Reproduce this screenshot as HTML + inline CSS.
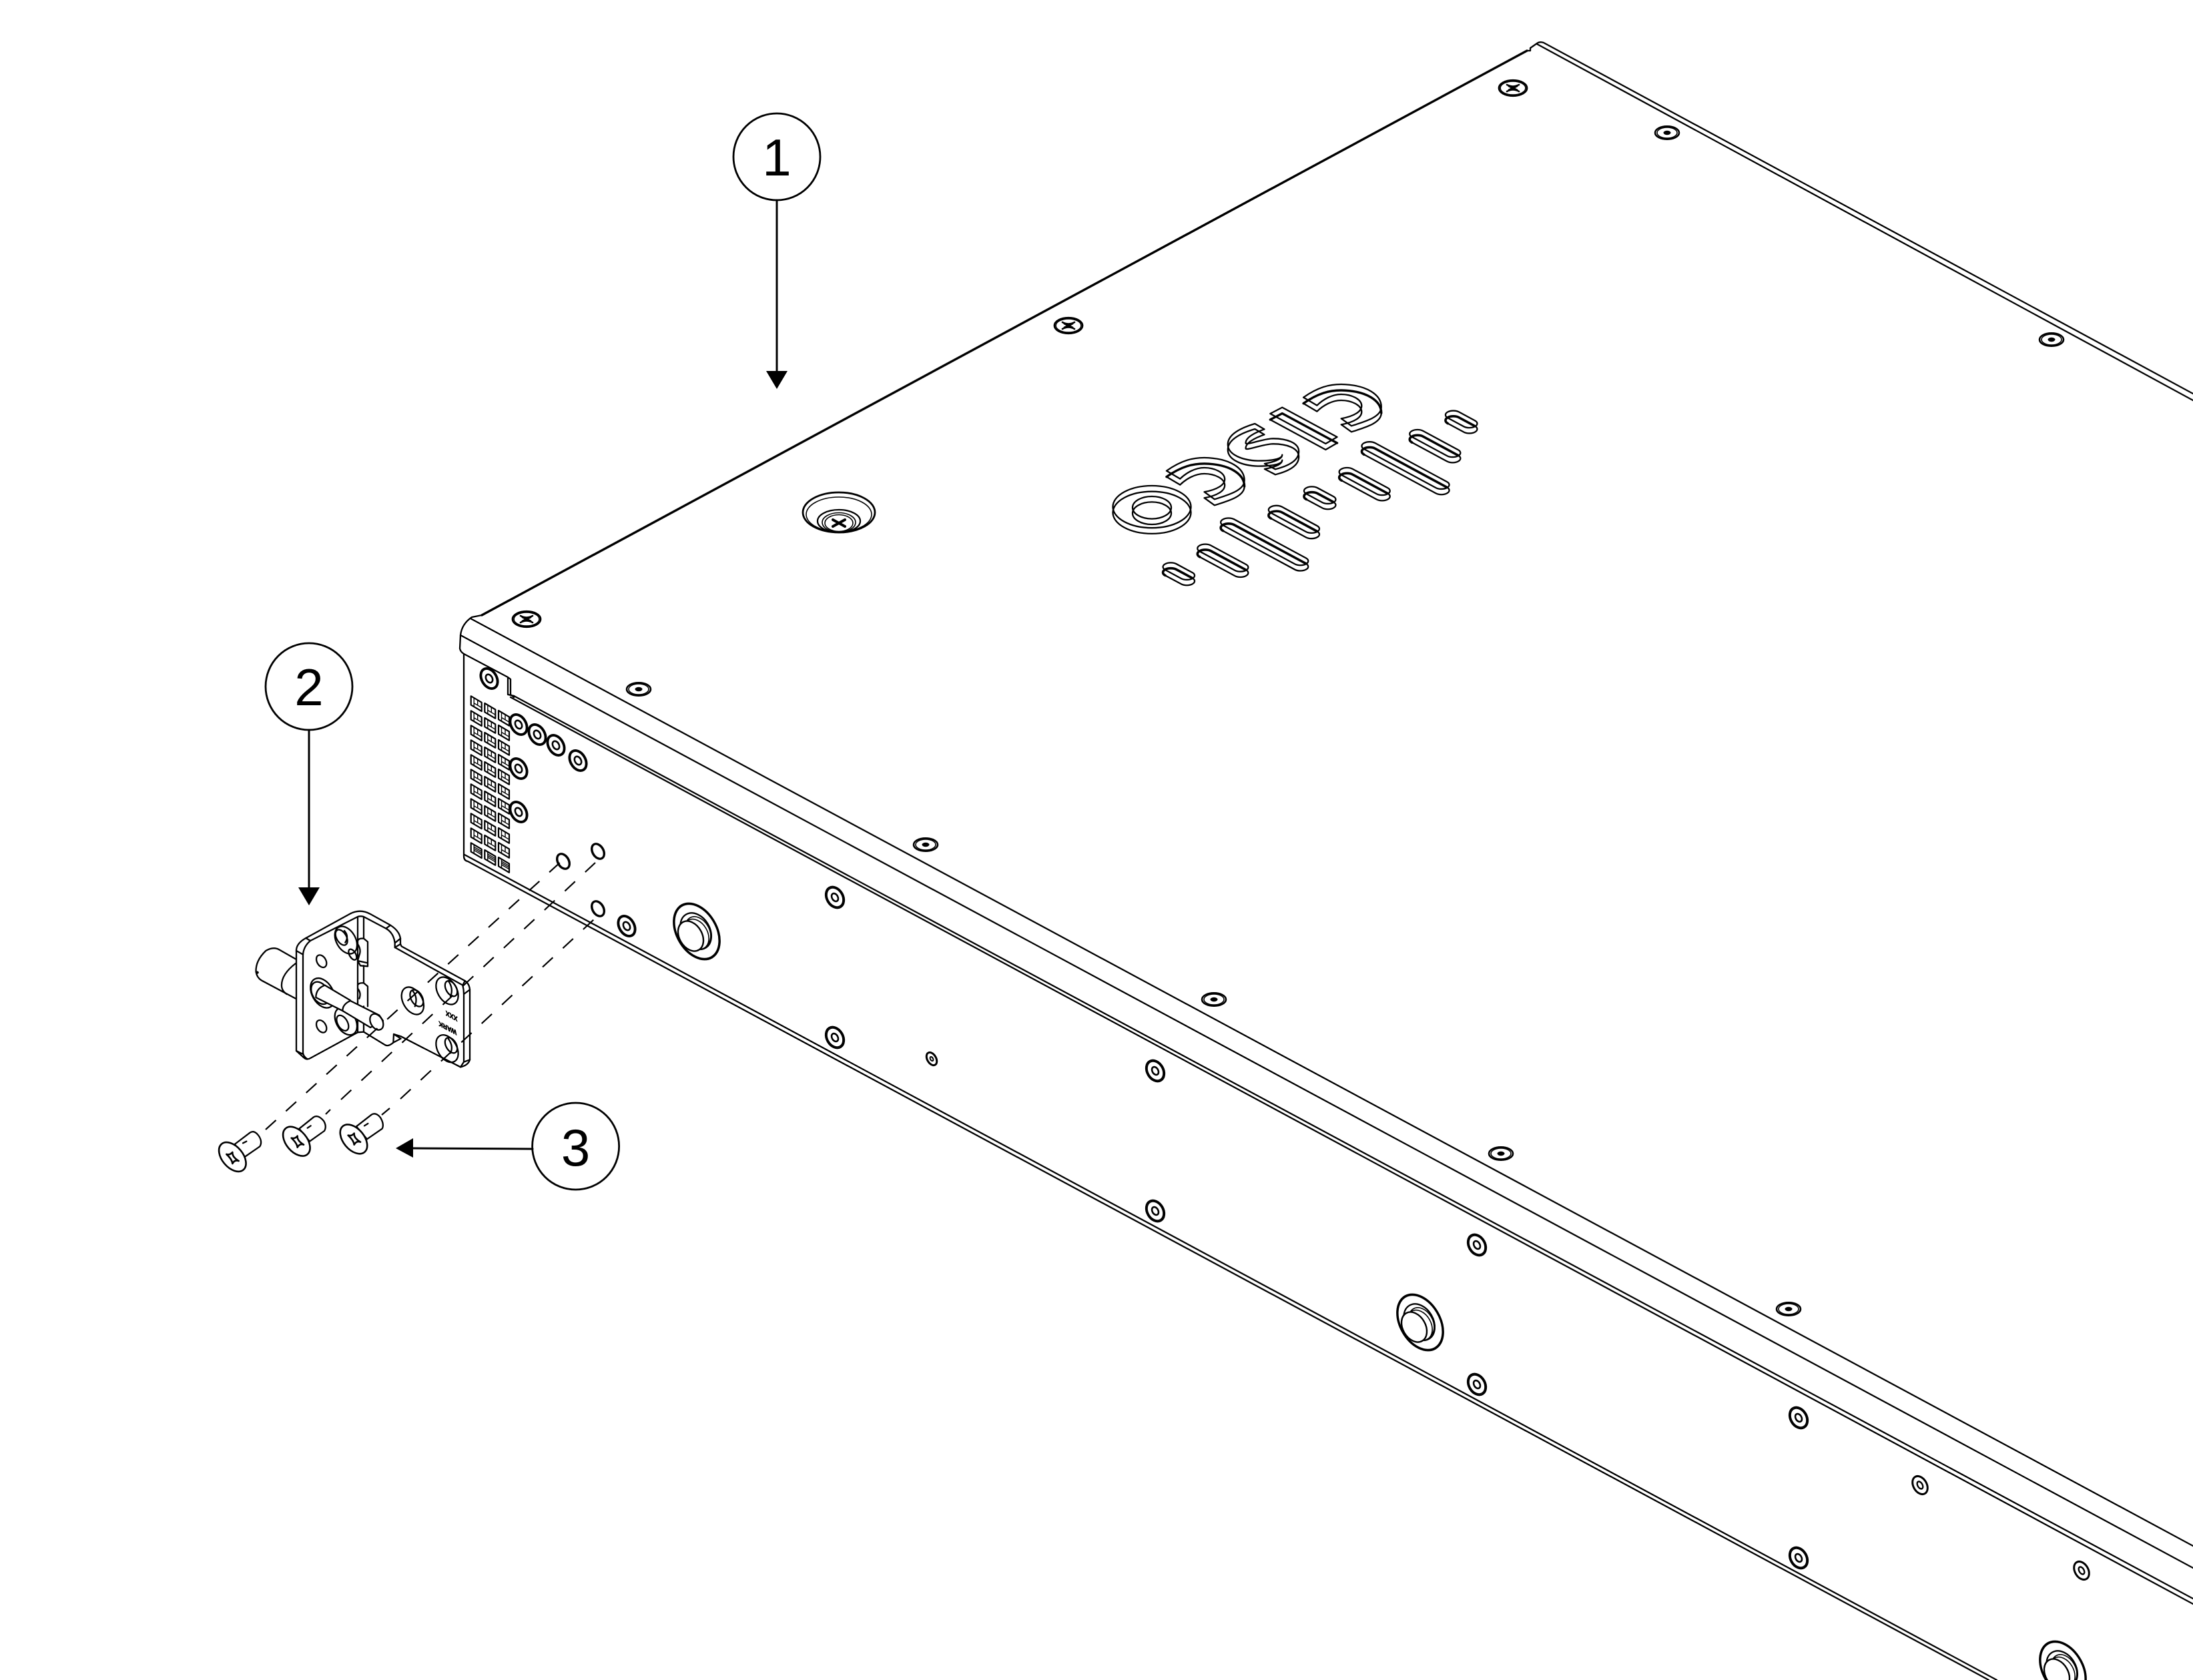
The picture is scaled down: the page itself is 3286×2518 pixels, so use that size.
<!DOCTYPE html>
<html><head><meta charset="utf-8"><style>
html,body{margin:0;padding:0;background:#fff;width:3286px;height:2518px;overflow:hidden}
svg{display:block}
.nss *{vector-effect:non-scaling-stroke}
text{font-family:"Liberation Sans",sans-serif;fill:#000}
</style></head><body>
<svg width="3286" height="2518" viewBox="0 0 3286 2518" xmlns="http://www.w3.org/2000/svg" fill="none" stroke="#000" stroke-width="2.3" stroke-linejoin="round" stroke-linecap="round">
<defs>
<g id="pan"><ellipse rx="18" ry="9.7" stroke-width="2.6"/><ellipse rx="15" ry="8" stroke-width="1.6"/><ellipse rx="5.5" ry="3.2" fill="#000" stroke="none"/></g>
<g id="phil"><ellipse rx="21" ry="11.7" stroke-width="2.8"/><ellipse rx="18.8" ry="10" stroke-width="1.4"/><path d="M-9,-5 Q0,0 9,-5 M-9,5 Q0,0 9,5" stroke-width="2.6"/><path d="M-6,-3 L6,3 M-6,3 L6,-3" stroke-width="3"/></g>
<g id="side"><ellipse rx="11.8" ry="16.8" transform="rotate(-30)" stroke-width="2.6"/><ellipse rx="10" ry="15" transform="rotate(-30)" stroke-width="1.6"/><ellipse rx="4.6" ry="6.6" transform="rotate(-30)" stroke-width="2.6"/></g>
<g id="sidev"><ellipse rx="12.6" ry="17" transform="rotate(-30)" stroke-width="2.6"/><ellipse rx="10.8" ry="15" transform="rotate(-30)" stroke-width="1.6"/><ellipse rx="4.4" ry="6.4" transform="rotate(-30)" stroke-width="2.6"/></g>
<g id="small"><ellipse rx="10" ry="14.5" transform="rotate(-30)" stroke-width="3"/><ellipse rx="3.6" ry="6" transform="rotate(-30)" stroke-width="2.4"/></g>
<g id="tiny"><ellipse rx="6.6" ry="10.4" transform="rotate(-30)" stroke-width="3"/><ellipse rx="2" ry="3.4" transform="rotate(-30)" stroke-width="2"/></g>
<g id="hole"><ellipse rx="8.6" ry="12.4" transform="rotate(-30)" stroke-width="2.6"/><ellipse rx="7" ry="11" transform="rotate(-30)" stroke-width="1.2"/></g>
<g id="foot">
<ellipse rx="30" ry="45.3" transform="rotate(-30)" stroke-width="2.8"/>
<ellipse cx="0" cy="0" rx="28.6" ry="43.6" transform="rotate(-30)" stroke-width="1.2"/>
<ellipse cx="-1" cy="-1" rx="21" ry="29" transform="rotate(-30)"/>
<ellipse cx="-3" cy="1" rx="17" ry="24" transform="translate(4,-2) rotate(-30)" fill="#fff" stroke-width="1.6"/>
<ellipse cx="-5" cy="3" rx="17" ry="24" transform="translate(2,-1) rotate(-30)" fill="#fff" stroke-width="1.6"/>
<ellipse cx="-9" cy="7" rx="17" ry="24" transform="rotate(-30 -9 7)" fill="#fff" stroke-width="2.4"/>
</g>
<g id="v"><path d="M0,0 L16,9.5 L16,22.8 L0,13.3 Z" stroke-width="2.2"/><path d="M4.5,3 L4.5,15.5 M4.5,10.5 L16,17.3 M10,6 L10,13.5" stroke-width="1.4"/></g>
<g id="vb"><path d="M0,0 L16,9.5 L16,22.8 L0,13.3 Z" stroke-width="2.2"/><path d="M4.5,3 L4.5,15.5 M4.5,6 L16,12.8 M4.5,8.5 L16,15.3 M4.5,11 L16,17.8" stroke-width="1.4"/></g>
<path id="sd" d="M-3.7,-10.96 L20.3,2 A11.7,6.3 0 0 1 3.7,10.96 L-20.3,-2 A11.7,6.3 0 0 1 -3.7,-10.96 Z"/>
<path id="sm" d="M-18,-18.68 L34.6,9.72 A11.7,6.3 0 0 1 18,18.68 L-34.6,-9.72 A11.7,6.3 0 0 1 -18,-18.68 Z"/>
<path id="sl" d="M-45.5,-33.53 L62.1,24.57 A11.7,6.3 0 0 1 45.5,33.53 L-62.1,-24.57 A11.7,6.3 0 0 1 -45.5,-33.53 Z"/>
<g id="dot"><use href="#sd" y="-4.15"/><use href="#sd" y="4.15"/><path transform="translate(0,4.15)" stroke-width="3.6" d="M-20.3,-2 A11.7,6.3 0 0 1 -3.7,-10.96 L20.3,2"/></g>
<g id="med"><use href="#sm" y="-4.15"/><use href="#sm" y="4.15"/><path transform="translate(0,4.15)" stroke-width="3.6" d="M-34.6,-9.72 A11.7,6.3 0 0 1 -18,-18.68 L34.6,9.72"/></g>
<g id="lng"><use href="#sl" y="-4.15"/><use href="#sl" y="4.15"/><path transform="translate(0,4.15)" stroke-width="3.6" d="M-62.1,-24.57 A11.7,6.3 0 0 1 -45.5,-33.53 L62.1,24.57"/></g>
<path id="xh" vector-effect="non-scaling-stroke" stroke-width="2.6" d="M-25,-15 Q-10,-10 2,-24 Q0,-3 30,15 Q12,8 2,27 Q0,8 -25,-15 Z"/>
</defs>

<!-- chassis edges -->
<path d="M722,922 L2288,76" stroke-width="3.4"/>
<path d="M722,922 L707,925 Q692,935 690,952 L689,972 Q690,977 695,980 L761,1015 L761,1041 L770,1043 M761,1015 L765,1018 L765,1041 L770,1045"/>
<path d="M2288,76 L2293,76 L2293,72 L2303,65 Q2307,62 2313,64 L3286,590 M2303,66 L3286,600"/>
<path d="M705,927 L3286,2317"/>
<path d="M690,952 L3286,2350"/>
<path d="M770,1043 L3286,2396"/>
<path d="M765,1045 L3286,2404"/>
<path d="M695,980 L695,1283 Q695,1290 701,1291 L2980,2518 M696,1281 L2992,2518"/>

<!-- top screws -->
<use href="#phil" x="2267" y="132"/><use href="#phil" x="1601" y="488"/><use href="#phil" x="789" y="928"/>
<use href="#pan" x="2498" y="199"/><use href="#pan" x="3074" y="509"/><use href="#pan" x="957" y="1033"/><use href="#pan" x="1387" y="1266"/><use href="#pan" x="1819" y="1498"/><use href="#pan" x="2249" y="1729"/><use href="#pan" x="2680" y="1962"/>

<!-- recessed screw -->
<ellipse cx="1257" cy="768" rx="54" ry="30" stroke-width="2.8"/>
<ellipse cx="1257" cy="771" rx="49" ry="26" stroke-width="1.6"/>
<ellipse cx="1257" cy="781" rx="32" ry="17"/><ellipse cx="1257" cy="783" rx="25" ry="14.5" stroke-width="1.6"/><ellipse cx="1257" cy="784" rx="21" ry="12.5" stroke-width="1.6"/>
<path d="M1248,779 L1266,789 M1248,789 L1266,779" stroke-width="4"/>

<!-- logo -->
<ellipse cx="1726" cy="759.6" rx="58.5" ry="31.6"/><ellipse cx="1726" cy="768.3" rx="58.5" ry="31.6"/>
<ellipse cx="1726" cy="760.8" rx="29" ry="16.8"/><ellipse cx="1726" cy="769.2" rx="29" ry="16.8"/>
<g class="nss" transform="translate(1640,540) scale(0.3827,0.3333)">
<path id="c1" d="M282,497 C340,450 385,438 430,438 C530,440 587,485 587,540 C587,585 525,605 470,625 L430,592 C480,582 510,560 510,535 C510,505 470,483 430,483 C395,483 360,505 335,533 Z"/>
<path transform="translate(0,27)" d="M282,497 C340,450 385,438 430,438 C530,440 587,485 587,540 C587,585 525,605 470,625 L430,592 C480,582 510,560 510,535 C510,505 470,483 430,483 C395,483 360,505 335,533 Z"/>
<path transform="translate(0,27)" stroke-width="3.4" d="M282,497 C340,450 385,438 430,438 C530,440 587,485 587,540"/>
<path transform="translate(536,-330)" d="M282,497 C340,450 385,438 430,438 C530,440 587,485 587,540 C587,585 525,605 470,625 L430,592 C480,582 510,560 510,535 C510,505 470,483 430,483 C395,483 360,505 335,533 Z"/>
<path transform="translate(536,-303)" d="M282,497 C340,450 385,438 430,438 C530,440 587,485 587,540 C587,585 525,605 470,625 L430,592 C480,582 510,560 510,535 C510,505 470,483 430,483 C395,483 360,505 335,533 Z"/>
<path transform="translate(536,-303)" stroke-width="3.4" d="M282,497 C340,450 385,438 430,438 C530,440 587,485 587,540"/>
<path d="M688,240 L735,212 L950,345 L905,375 Z"/><path d="M688,267 L735,239 L950,372 L905,402 Z"/>
<path d="M688,267 L735,239 L950,372" stroke-width="3.4"/>
<path d="M628,285 C570,305 522,335 522,378 C522,425 580,450 640,452 C690,452 735,445 735,425 C735,445 700,458 666,465 L708,490 C760,475 800,450 800,410 C800,370 750,352 700,352 C660,352 592,385 592,372 C592,345 630,325 665,310 Z"/>
<path transform="translate(0,24)" d="M628,285 C570,305 522,335 522,378 C522,425 580,450 640,452 C690,452 735,445 735,425 C735,445 700,458 666,465 L708,490 C760,475 800,450 800,410 C800,370 750,352 700,352 C660,352 592,385 592,372 C592,345 630,325 665,310 Z"/>
</g>
<use href="#dot" x="1766.3" y="860.3"/><use href="#med" x="1832.3" y="840.3"/><use href="#lng" x="1894.7" y="816"/><use href="#med" x="1938.9" y="782.5"/><use href="#dot" x="1977.7" y="746.3"/><use href="#med" x="2044.7" y="725.7"/><use href="#lng" x="2106" y="701.7"/><use href="#med" x="2150.3" y="668.7"/><use href="#dot" x="2189.7" y="632.5"/>

<!-- vents -->
<use href="#v" x="705.7" y="1043.3"/><use href="#v" x="705.7" y="1065.3"/><use href="#v" x="705.7" y="1087.3"/><use href="#v" x="705.7" y="1109.3"/><use href="#v" x="705.7" y="1131.3"/><use href="#v" x="705.7" y="1153.3"/><use href="#v" x="705.7" y="1175.3"/><use href="#v" x="705.7" y="1197.3"/><use href="#v" x="705.7" y="1219.3"/><use href="#v" x="705.7" y="1241.3"/><use href="#vb" x="705.7" y="1263.3"/>
<use href="#v" x="726.3" y="1054"/><use href="#v" x="726.3" y="1076"/><use href="#v" x="726.3" y="1098"/><use href="#v" x="726.3" y="1120"/><use href="#v" x="726.3" y="1142"/><use href="#v" x="726.3" y="1164"/><use href="#v" x="726.3" y="1186"/><use href="#v" x="726.3" y="1208"/><use href="#v" x="726.3" y="1230"/><use href="#v" x="726.3" y="1252"/><use href="#vb" x="726.3" y="1274"/>
<use href="#v" x="747" y="1065"/><use href="#v" x="747" y="1087"/><use href="#v" x="747" y="1109"/><use href="#v" x="747" y="1131"/><use href="#v" x="747" y="1153"/><use href="#v" x="747" y="1175"/><use href="#v" x="747" y="1197"/><use href="#v" x="747" y="1219"/><use href="#v" x="747" y="1241"/><use href="#v" x="747" y="1263"/><use href="#vb" x="747" y="1285"/>

<!-- side screws -->
<use href="#side" x="733" y="1017"/><use href="#side" x="777" y="1086"/><use href="#side" x="805" y="1101"/><use href="#side" x="833" y="1117"/><use href="#side" x="866" y="1140"/><use href="#side" x="777" y="1152"/><use href="#side" x="777" y="1217"/>
<use href="#side" x="939" y="1388"/>
<use href="#hole" x="844" y="1291"/><use href="#hole" x="896" y="1276"/><use href="#hole" x="896" y="1362"/>
<use href="#sidev" x="1251" y="1345"/><use href="#sidev" x="1251" y="1555"/><use href="#sidev" x="1731" y="1605"/><use href="#sidev" x="1731" y="1815"/><use href="#sidev" x="2213" y="1866"/><use href="#sidev" x="2213" y="2075"/><use href="#sidev" x="2695" y="2125"/><use href="#sidev" x="2695" y="2335"/>
<use href="#small" x="2877" y="2226"/><use href="#small" x="3119" y="2354"/><use href="#tiny" x="1396" y="1587"/>
<use href="#foot" x="1044" y="1396"/><use href="#foot" x="2128" y="1982"/><use href="#foot" x="3091" y="2502"/>

<!-- bracket cylinder -->
<g class="nss" transform="translate(280,1300) scale(0.4464,0.3333)">
<path d="M365,412 L310,370 Q290,355 265,375 Q230,420 232,470 Q235,495 250,508 L365,590"/>
<path d="M365,432 Q318,480 318,530 Q318,555 335,570"/>
<circle cx="236" cy="473" r="3" fill="#000"/>
</g>
<!-- bracket -->
<g class="nss" transform="translate(430,1360) scale(0.33333)">
<path fill="#fff" d="M42,190 Q45,160 85,138 L285,28 Q330,5 375,30 L465,80 Q505,105 510,140 L510,165 L515,175 L800,330 Q822,345 822,375 L822,685 Q815,710 780,718 L512,580 L480,570 L478,608 Q455,628 440,618 L345,560 L318,562 L105,678 Q88,688 75,675 L42,645 Z"/>
<path d="M72,212 Q75,175 105,150 L318,42 Q330,38 345,42 L445,95 Q480,115 485,160 L485,180 L790,350 Q795,370 795,390 L795,695 L780,718"/>
<path d="M72,212 L72,655 Q75,672 92,682 M85,138 L105,150 M42,195 L72,212 M42,645 L72,660 M465,80 L445,95 M510,140 L485,160 M510,165 L485,180 M822,370 L795,390 M822,685 L795,695 M800,330 L790,350"/>
<path d="M318,42 L318,562 M345,42 L345,140 M345,262 L345,340 M345,445 L345,560"/>
<path d="M480,570 L512,590 L478,608"/>
<path d="M318,150 Q322,138 345,140 L363,155 L363,265 L330,262 L318,240 L363,250 M318,165 Q335,190 325,215 L318,240"/>
<path d="M318,350 Q322,338 345,340 L363,355 L363,445 M318,365 Q335,385 325,410"/>
<ellipse cx="265" cy="147" rx="43" ry="66.5" transform="rotate(-30 265 147)"/>
<ellipse cx="245" cy="135" rx="22" ry="38" transform="rotate(-30 245 135)"/>
<path d="M258,105 Q280,130 262,158"/>
<ellipse cx="295" cy="212" rx="14" ry="26.5" transform="rotate(-30 295 212)"/>
<ellipse cx="155" cy="242" rx="20" ry="30" transform="rotate(-30 155 242)"/>
<ellipse cx="155" cy="535" rx="20" ry="30" transform="rotate(-30 155 535)"/>
<ellipse cx="160" cy="385" rx="47" ry="72" transform="rotate(-30 160 385)"/>
<ellipse cx="150" cy="385" rx="36" ry="54" transform="rotate(-30 150 385)"/>
<ellipse cx="265" cy="512" rx="43" ry="66.5" transform="rotate(-30 265 512)"/>
<ellipse cx="250" cy="520" rx="22" ry="38" transform="rotate(-30 250 520)"/>
<path fill="#fff" d="M170,350 L285,418 L250,465 L130,405 Q130,365 170,350 Z"/>
<path fill="#fff" d="M285,420 L415,485 L432,510 L375,540 L250,465 Q250,435 285,420 Z"/>
<ellipse cx="403" cy="515" rx="26.5" ry="38.6" transform="rotate(-30 403 515)" fill="#fff"/>
<ellipse cx="565" cy="420" rx="43" ry="66.5" transform="rotate(-30 565 420)"/>
<ellipse cx="583" cy="408" rx="25" ry="41" transform="rotate(-30 583 408)"/>
<path d="M565,375 Q590,405 575,445"/>
<ellipse cx="720" cy="375" rx="43" ry="66.5" transform="rotate(-30 720 375)"/>
<ellipse cx="738" cy="365" rx="23" ry="38" transform="rotate(-30 738 365)"/>
<path d="M725,330 Q750,365 735,400"/>
<ellipse cx="720" cy="635" rx="43" ry="66.5" transform="rotate(-30 720 635)"/>
<ellipse cx="738" cy="620" rx="23" ry="38" transform="rotate(-30 738 620)"/>
<path d="M725,590 Q750,625 735,655"/>
</g>
<text font-size="10" font-weight="bold" text-anchor="middle" stroke="#000" stroke-width="0.7" transform="matrix(-.88,-.47,0,-1,676.7,1519.5)">XXX</text>
<text font-size="10" font-weight="bold" text-anchor="middle" stroke="#000" stroke-width="0.7" transform="matrix(-.88,-.47,0,-1,670.7,1537.5)">WARK</text>

<!-- screws -->
<g class="nss" transform="translate(310,1660) scale(0.33333)">
<path fill="#fff" d="M125,165 L195,112 Q215,100 235,130 Q250,155 238,175 L170,222 Z"/>
<ellipse cx="115" cy="222" rx="47" ry="76" transform="rotate(-40 115 222)" fill="#fff" stroke-width="2.6"/>
<path d="M162,160 L178,152"/>
<use href="#xh" x="113" y="225"/>
<path fill="#fff" d="M415,95 L480,43 Q500,30 525,60 Q540,85 528,105 L462,152 Z"/>
<ellipse cx="403" cy="152" rx="47" ry="76" transform="rotate(-40 403 152)" fill="#fff" stroke-width="2.6"/>
<path d="M452,92 L467,82"/>
<use href="#xh" x="405" y="152"/>
<path fill="#fff" d="M672,85 L740,32 Q760,20 780,45 Q798,75 788,95 L720,142 Z"/>
<ellipse cx="660" cy="142" rx="47" ry="76" transform="rotate(-40 660 142)" fill="#fff" stroke-width="2.6"/>
<path d="M708,82 L724,72"/>
<use href="#xh" x="660" y="140"/>
</g>

<!-- dashed -->
<g stroke-width="2.2" stroke-linecap="butt">
<path d="M398,1693 L840,1292" stroke-dasharray="21 20"/>
<path d="M488,1670 L495,1663"/>
<path d="M511,1648 L892,1293" stroke-dasharray="21 20.67"/>
<path d="M572,1671 L584,1661"/>
<path d="M600,1647 L890,1378" stroke-dasharray="21 20.5"/>
</g>

<!-- callouts -->
<circle cx="1164" cy="235" r="65" stroke-width="2.8" fill="#fff"/>
<circle cx="463" cy="1029" r="65" stroke-width="2.8" fill="#fff"/>
<circle cx="862.6" cy="1718" r="65" stroke-width="2.8" fill="#fff"/>
<text x="1164" y="263" font-size="78" text-anchor="middle" stroke="none">1</text>
<text x="463" y="1057" font-size="78" text-anchor="middle" stroke="none">2</text>
<text x="862.6" y="1747" font-size="78" text-anchor="middle" stroke="none">3</text>
<path d="M1164,300 L1164,556 M463,1094 L463,1330 M798,1722 L619,1721" stroke-width="3"/>
<path d="M1148,556 L1180,556 L1164,583 Z M447,1330 L479,1330 L463,1357 Z M619,1706 L619,1735 L593,1721 Z" fill="#000" stroke="none"/>
</svg>
</body></html>
